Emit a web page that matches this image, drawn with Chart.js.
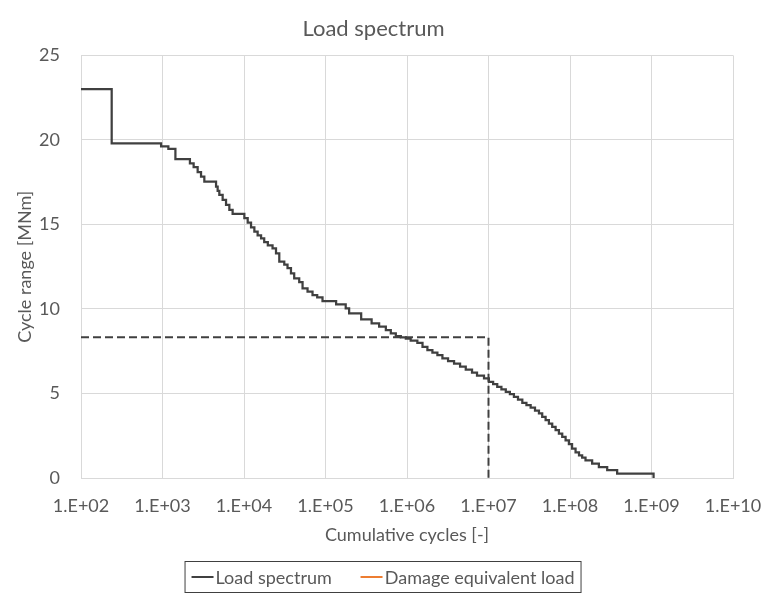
<!DOCTYPE html>
<html>
<head>
<meta charset="utf-8">
<script src="https://cdn.jsdelivr.net/npm/chart.js@4/dist/chart.umd.min.js"></script>
<style>
  html, body { margin: 0; padding: 0; background: #fff; }
  .wrap { position: relative; width: 766px; height: 594px; }
  #spectrumChart { position: absolute; left: 0; top: 0; }
  .legend-box {
    position: absolute; top: 561px; left: 383px; transform: translateX(-50%);
    height: 32px; box-sizing: border-box; border: 1px solid #404040;
    display: flex; align-items: center; padding: 0 6px;
    font: 18px Lato, sans-serif; color: #595959; white-space: nowrap;
  }
  .legend-item { display: flex; align-items: center; }
  .legend-item + .legend-item { margin-left: 29px; }
  .legend-line { display: inline-block; width: 22px; height: 2px; margin-right: 2px; }
</style>
</head>
<body>
<div class="wrap">
  <canvas id="spectrumChart" width="766" height="594"></canvas>
  <div class="legend-box" id="spectrumLegend"></div>
</div>
<script>
// cumulative cycles where each load level starts, and the level itself [MNm]
const cycles = [
  100, 238, 961, 1180, 1440, 2170, 2410, 2700, 2970, 3260,
  4540, 4750, 4980, 5470, 6020, 6610, 7250, 10100, 11100, 12200,
  13400, 14700, 16200, 17700, 19600, 22400, 24700, 27100, 31200, 34200,
  37700, 41300, 47600, 52300, 60200, 69300, 79100, 91900, 135000, 177000,
  195000, 274000, 368000, 455000, 550000, 633000, 729000, 840000, 967000, 1.11e6,
  1.34e6, 1.55e6, 1.78e6, 2.05e6, 2.36e6, 2.72e6, 3.19e6, 3.78e6, 4.48e6, 5.26e6,
  6.28e6, 7.23e6, 8.81e6, 1.01e7, 1.14e7, 1.28e7, 1.44e7, 1.63e7, 1.83e7, 2.05e7,
  2.30e7, 2.60e7, 2.92e7, 3.29e7, 3.72e7, 4.16e7, 4.56e7, 5.02e7, 5.51e7, 6.05e7,
  6.66e7, 7.31e7, 8.03e7, 8.83e7, 9.69e7, 1.06e8, 1.17e8, 1.29e8, 1.41e8, 1.55e8,
  1.87e8, 2.26e8, 2.86e8, 3.79e8, 1.06e9
];
const range = [
  23.0, 19.79, 19.62, 19.47, 18.86, 18.61, 18.39, 18.09, 17.83, 17.54,
  17.24, 16.98, 16.75, 16.45, 16.16, 15.86, 15.62, 15.37, 15.11, 14.83,
  14.57, 14.35, 14.17, 13.96, 13.76, 13.58, 13.29, 12.80, 12.63, 12.41,
  12.11, 11.81, 11.59, 11.22, 11.02, 10.82, 10.68, 10.47, 10.27, 10.04,
  9.74, 9.38, 9.15, 8.95, 8.75, 8.55, 8.39, 8.32, 8.25, 8.12,
  8.00, 7.76, 7.57, 7.41, 7.27, 7.07, 6.91, 6.77, 6.59, 6.41,
  6.23, 6.05, 5.89, 5.69, 5.55, 5.39, 5.25, 5.09, 4.96, 4.80,
  4.63, 4.44, 4.31, 4.17, 3.98, 3.82, 3.61, 3.42, 3.22, 3.02,
  2.83, 2.63, 2.43, 2.23, 2.00, 1.74, 1.52, 1.34, 1.20, 1.05,
  0.85, 0.65, 0.46, 0.26, 0
];

// damage equivalent load guide (dashed)
const delCycles = [100, 1e7, 1e7];
const delRange = [8.32, 8.32, 0];

const xTicks = [1e2, 1e3, 1e4, 1e5, 1e6, 1e7, 1e8, 1e9, 1e10];
const yTicks = [0, 5, 10, 15, 20, 25];

const seriesNames = ['Load spectrum', 'Damage equivalent load'];
const seriesColors = ['#404040', '#ed7d31'];

const textColor = '#595959';
const gridColor = '#d9d9d9';
const font = { family: 'Lato', size: 18 };

const fmtExp = v => '1.E+' + String(Math.round(Math.log10(v))).padStart(2, '0');
const toPoints = (xs, ys) => xs.map((x, i) => ({ x, y: ys[i] }));

function renderSpectrumChart() {
  const ctx = document.getElementById('spectrumChart');
  new Chart(ctx, {
    type: 'line',
    data: {
      datasets: [
        {
          label: seriesNames[0],
          data: toPoints(cycles, range),
          borderColor: seriesColors[0],
          borderWidth: 2.25,
          stepped: 'before',
          pointRadius: 0,
          fill: false
        },
        {
          label: seriesNames[1],
          data: toPoints(delCycles, delRange),
          borderColor: '#404040',
          borderWidth: 2,
          borderDash: [8, 4],
          pointRadius: 0,
          fill: false
        }
      ]
    },
    options: {
      responsive: false,
      animation: false,
      layout: { padding: { left: 14, right: 33, top: 0, bottom: 48 } },
      plugins: {
        legend: { display: false },
        tooltip: { enabled: false },
        title: {
          display: true,
          text: 'Load spectrum',
          color: textColor,
          font: { family: 'Lato', size: 22, weight: 'normal' },
          padding: { top: 16, bottom: 13 }
        }
      },
      scales: {
        x: {
          type: 'logarithmic',
          min: xTicks[0],
          max: xTicks[xTicks.length - 1],
          afterBuildTicks: s => { s.ticks = xTicks.map(v => ({ value: v })); },
          afterFit: s => { s.height = 68; s.paddingLeft = 0; s.paddingRight = 0; },
          ticks: { color: textColor, font, padding: 17, autoSkip: false, maxRotation: 0, callback: v => fmtExp(v) },
          grid: { color: gridColor, drawTicks: false },
          border: { color: gridColor },
          title: { display: true, text: 'Cumulative cycles [-]', color: textColor, font, padding: 0 }
        },
        y: {
          min: yTicks[0],
          max: yTicks[yTicks.length - 1],
          afterBuildTicks: s => { s.ticks = yTicks.map(v => ({ value: v })); },
          afterFit: s => { s.width = 67; },
          ticks: { color: textColor, font, padding: 21 },
          grid: { color: gridColor, drawTicks: false },
          border: { display: false },
          title: { display: true, text: 'Cycle range [MNm]', color: textColor, font, padding: 0 }
        }
      }
    }
  });
}

function renderLegend() {
  const el = document.getElementById('spectrumLegend');
  el.innerHTML = seriesNames.map((name, i) => `
    <span class="legend-item"><span class="legend-line" style="background:${seriesColors[i]}"></span>${name}</span>`).join('');
}

renderSpectrumChart();
renderLegend();
</script>
</body>
</html>
